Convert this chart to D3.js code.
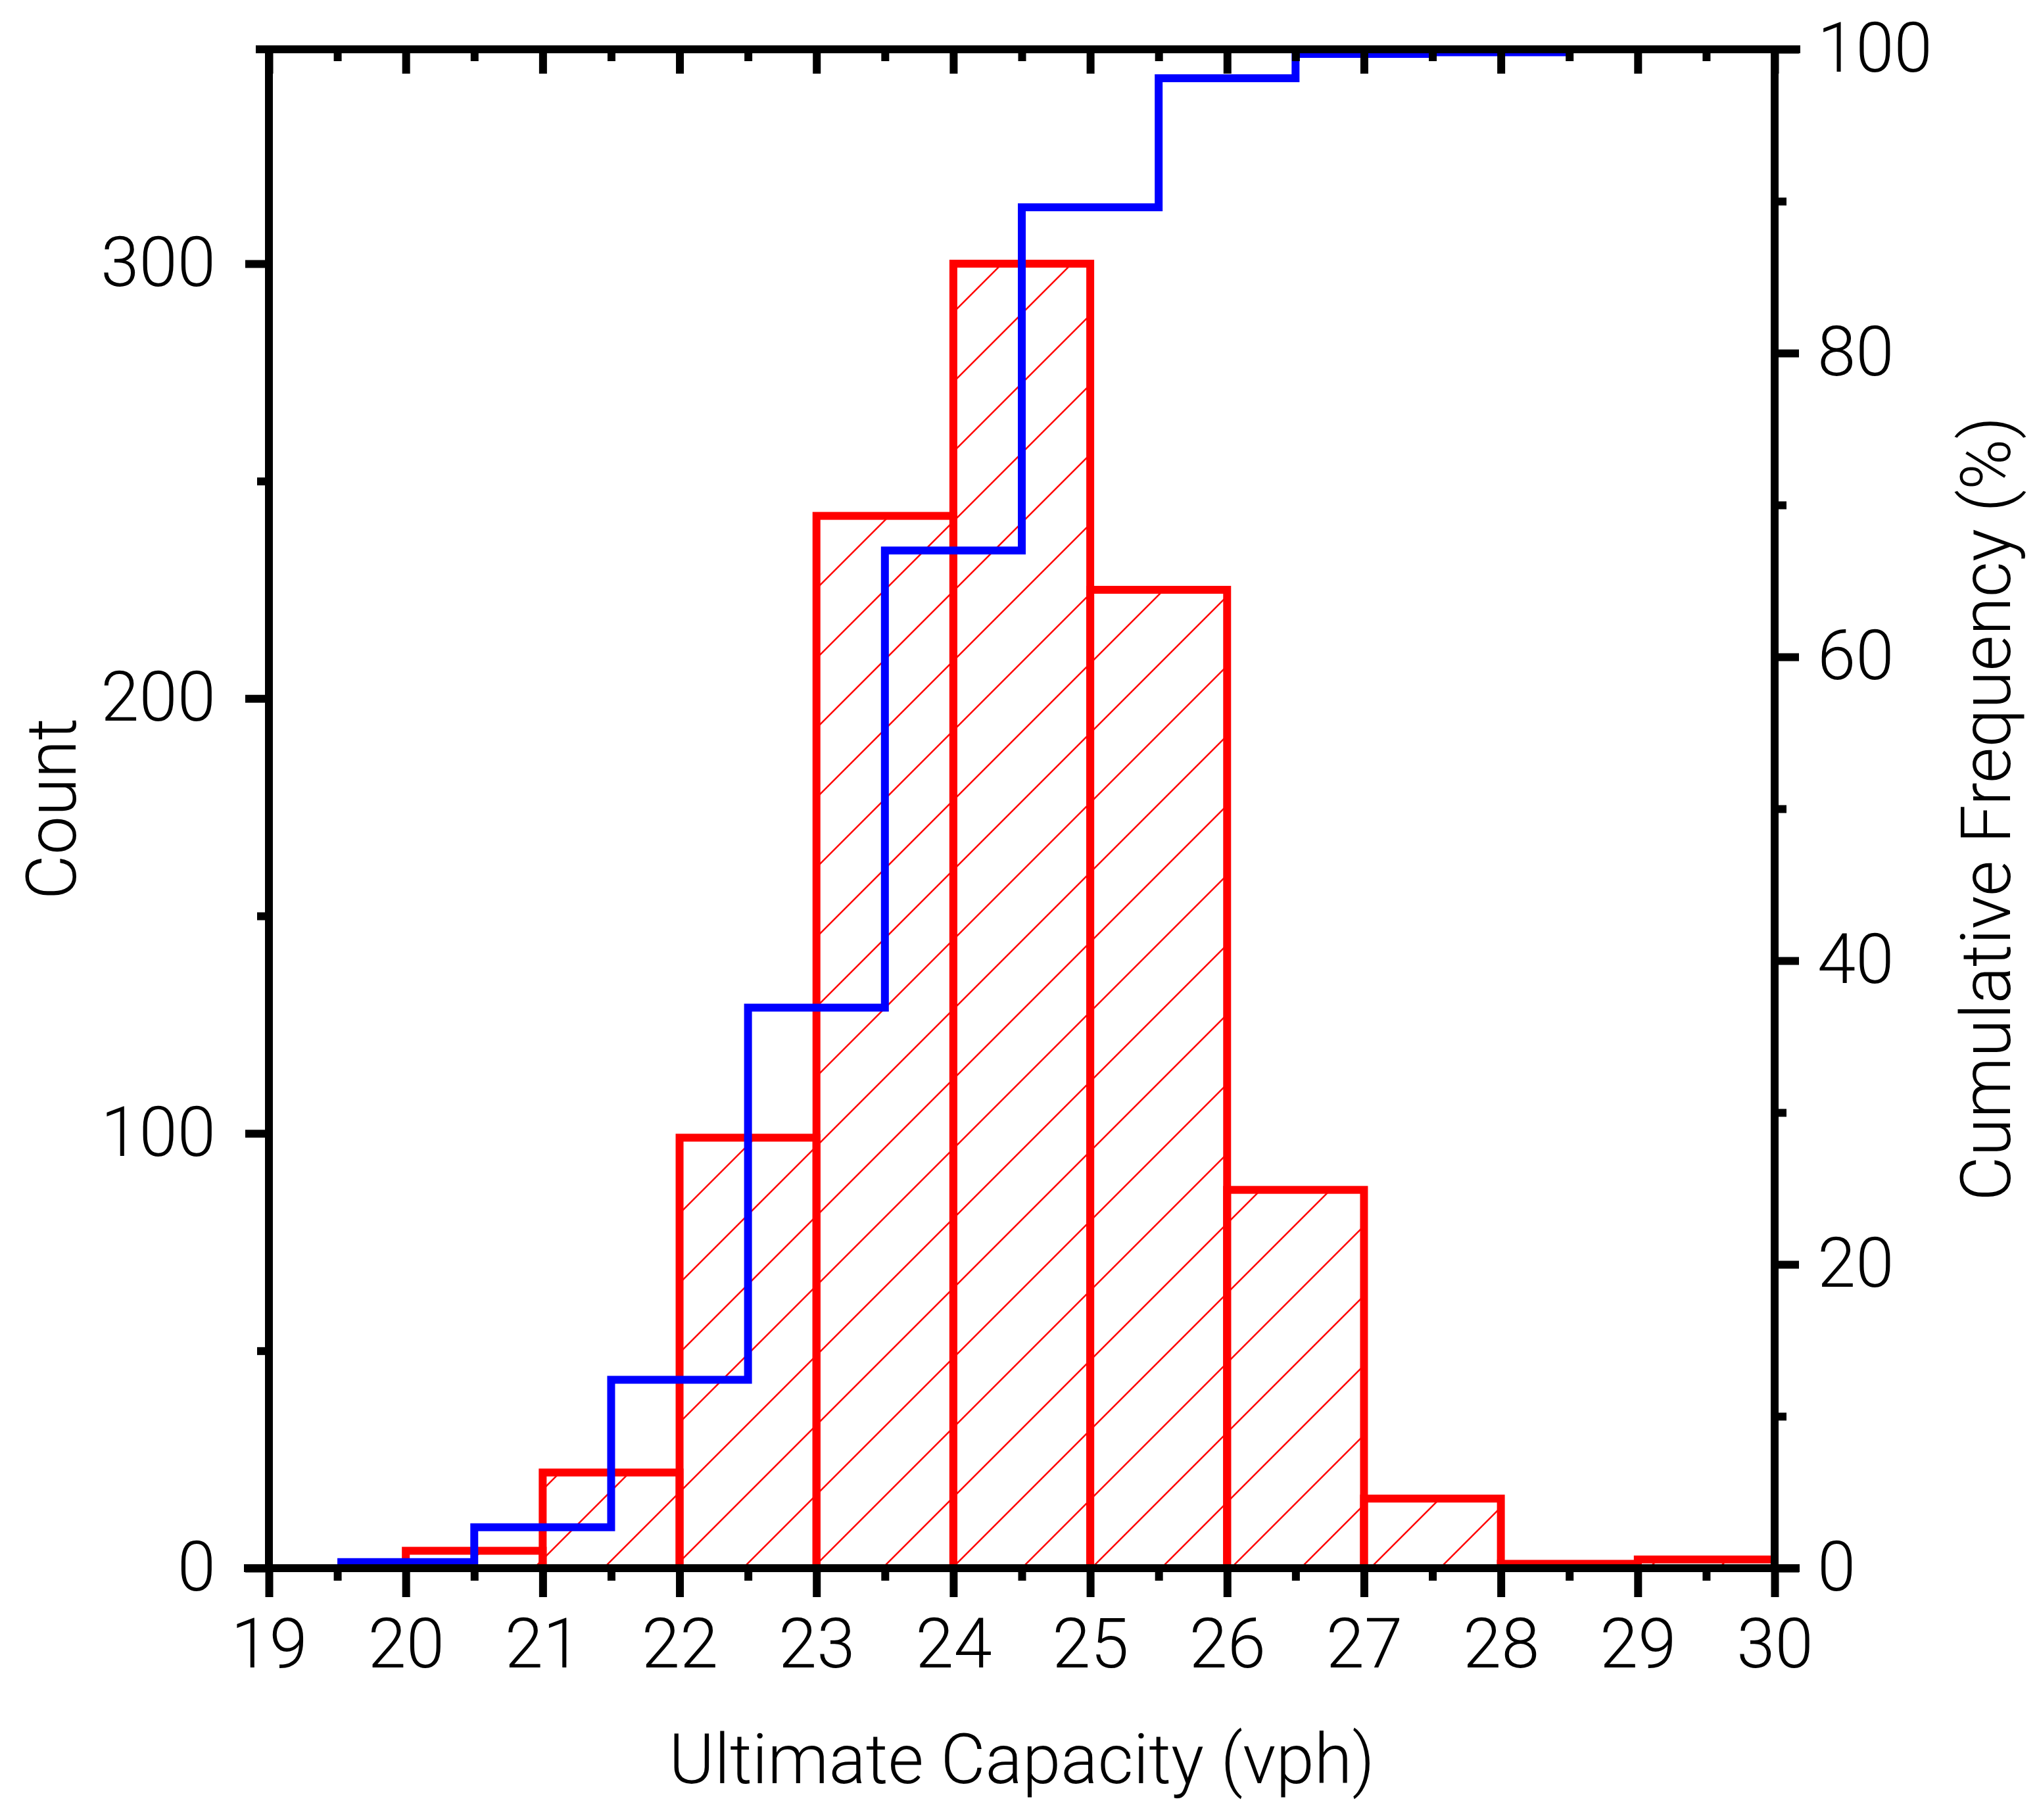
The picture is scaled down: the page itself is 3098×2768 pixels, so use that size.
<!DOCTYPE html>
<html>
<head>
<meta charset="utf-8">
<script src="https://cdn.jsdelivr.net/npm/d3@7"></script>
<style>
  body { margin: 0; background: #fff; }
  text { font-family: Roboto, "Liberation Sans", Arial, sans-serif; font-weight: 300; fill: #000; }
</style>
</head>
<body>
<svg id="chart"></svg>
<script>
// histogram bins (start, end) and counts
const binStart = [20, 21, 22, 23, 24, 25, 26, 27, 28, 29];
const binEnd = [21, 22, 23, 24, 25, 26, 27, 28, 29, 30];
const counts = [4, 22, 99, 242, 300, 225, 87, 16, 1, 2];

// cumulative frequency (%) drawn as centered steps
const cumX = [20, 21, 22, 23, 24, 25, 26, 27, 28];
const cumPct = [0.4, 2.7, 12.4, 36.9, 67.0, 89.6, 98.1, 99.7, 99.8];

const xMajor = [19, 20, 21, 22, 23, 24, 25, 26, 27, 28, 29, 30];
const xMinor = [19.5, 20.5, 21.5, 22.5, 23.5, 24.5, 25.5, 26.5, 27.5, 28.5, 29.5];
const countMajor = [0, 100, 200, 300];
const countMinor = [50, 150, 250];
const pctMajor = [0, 20, 40, 60, 80, 100];
const pctMinor = [10, 30, 50, 70, 90];

const W = 3098, H = 2768;
const plotL = 409, plotR = 2699, plotT = 75, plotB = 2385;
const axisW = 12;
const fontSize = 105;

const svg = d3.select("#chart").attr("width", W).attr("height", H);
svg.append("rect").attr("width", W).attr("height", H).attr("fill", "#fff");

const x = d3.scaleLinear().domain([19, 30]).range([plotL, plotR]);
const yCount = d3.scaleLinear().domain([0, 349.3]).range([plotB, plotT]);
const yPct = d3.scaleLinear().domain([0, 100]).range([plotB, plotT]);

// hatch
const defs = svg.append("defs");
const pat = defs.append("pattern")
  .attr("id", "hatch")
  .attr("patternUnits", "userSpaceOnUse")
  .attr("x", 17).attr("y", 0)
  .attr("width", 106).attr("height", 106);
pat.append("path")
  .attr("d", "M0,106L106,0M-10,10L10,-10M96,116L116,96")
  .attr("stroke", "#ff0000")
  .attr("stroke-width", 2.5);

// bars
svg.append("g")
  .selectAll("rect")
  .data(counts)
  .join("rect")
  .attr("x", (d, i) => x(binStart[i]))
  .attr("y", (d) => yCount(d))
  .attr("width", (d, i) => x(binEnd[i]) - x(binStart[i]))
  .attr("height", (d) => yCount(0) - yCount(d))
  .attr("fill", "url(#hatch)")
  .attr("stroke", "#ff0000")
  .attr("stroke-width", 12);

// cumulative line
const stepPts = [];
cumX.forEach((c, i) => {
  stepPts.push([c - 0.5, cumPct[i]]);
  stepPts.push([c + 0.5, cumPct[i]]);
});
svg.append("path")
  .datum(stepPts)
  .attr("fill", "none")
  .attr("stroke", "#0000ff")
  .attr("stroke-width", 12)
  .attr("stroke-linejoin", "miter")
  .attr("d", d3.line().x((d) => x(d[0])).y((d) => yPct(d[1])));

// axes
function styleAxis(g) {
  g.select(".domain").remove();
  g.selectAll(".tick line").attr("stroke", "#000").attr("stroke-width", axisW);
  g.selectAll(".tick text").style("font-size", fontSize + "px");
}

svg.append("g").attr("transform", `translate(0,${plotB})`)
  .call(d3.axisBottom(x).tickValues(xMajor).tickFormat(d3.format("d")).tickSize(44).tickPadding(32))
  .call(styleAxis);
svg.append("g").attr("transform", `translate(0,${plotB})`)
  .call(d3.axisBottom(x).tickValues(xMinor).tickFormat("").tickSize(19))
  .call(styleAxis);

svg.append("g").attr("transform", `translate(0,${plotT})`)
  .call(d3.axisTop(x).tickValues(xMajor).tickFormat("").tickSize(-37))
  .call(styleAxis);
svg.append("g").attr("transform", `translate(0,${plotT})`)
  .call(d3.axisTop(x).tickValues(xMinor).tickFormat("").tickSize(-18))
  .call(styleAxis);

svg.append("g").attr("transform", `translate(${plotL},0)`)
  .call(d3.axisLeft(yCount).tickValues(countMajor).tickSize(36).tickPadding(45))
  .call(styleAxis);
svg.append("g").attr("transform", `translate(${plotL},0)`)
  .call(d3.axisLeft(yCount).tickValues(countMinor).tickFormat("").tickSize(18))
  .call(styleAxis);

svg.append("g").attr("transform", `translate(${plotR},0)`)
  .call(d3.axisRight(yPct).tickValues(pctMajor).tickSize(37).tickPadding(28))
  .call(styleAxis);
svg.append("g").attr("transform", `translate(${plotR},0)`)
  .call(d3.axisRight(yPct).tickValues(pctMinor).tickFormat("").tickSize(18))
  .call(styleAxis);

// frame lines
const frame = svg.append("g").attr("stroke", "#000").attr("stroke-width", axisW);
frame.append("line").attr("x1", plotL).attr("x2", plotL).attr("y1", plotT).attr("y2", plotB);
frame.append("line").attr("x1", plotR).attr("x2", plotR).attr("y1", plotT).attr("y2", plotB);
frame.append("line").attr("x1", 371).attr("x2", 2737).attr("y1", plotB).attr("y2", plotB);
frame.append("line").attr("x1", 389).attr("x2", 2738).attr("y1", plotT).attr("y2", plotT);

// titles
svg.append("text")
  .attr("x", (plotL + plotR) / 2)
  .attr("y", 2712)
  .attr("text-anchor", "middle")
  .style("font-size", fontSize + "px")
  .text("Ultimate Capacity (vph)");

svg.append("text")
  .attr("transform", `translate(115,${(plotT + plotB) / 2}) rotate(-90)`)
  .attr("text-anchor", "middle")
  .style("font-size", fontSize + "px")
  .text("Count");

svg.append("text")
  .attr("transform", `translate(3057,${(plotT + plotB) / 2}) rotate(-90)`)
  .attr("text-anchor", "middle")
  .style("font-size", fontSize + "px")
  .text("Cumulative Frequency (%)");
</script>
</body>
</html>
